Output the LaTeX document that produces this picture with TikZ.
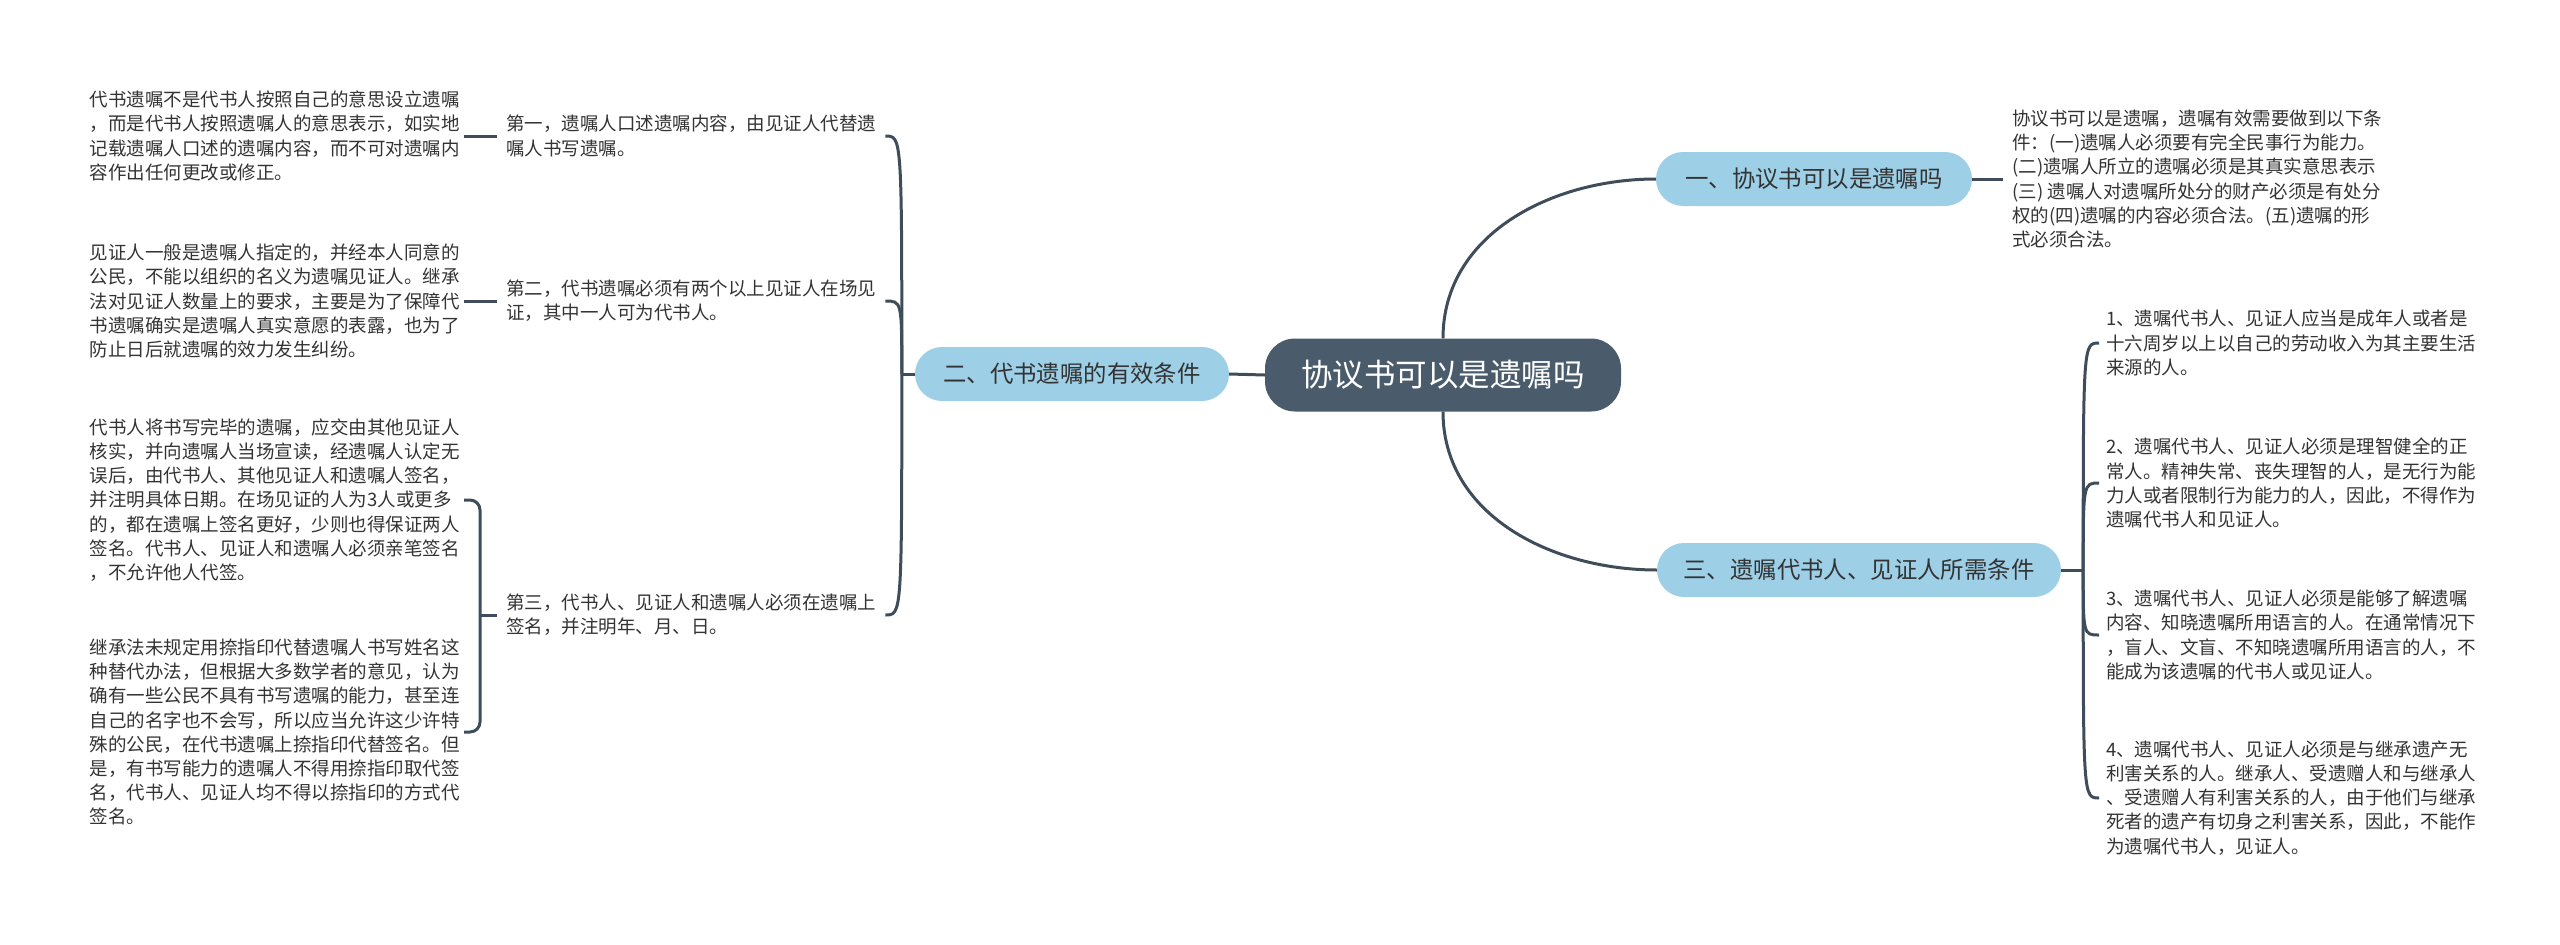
\documentclass[tikz,border=0pt]{standalone}
\usepackage{fontspec}
\setmainfont{Noto Sans CJK SC}
\usetikzlibrary{positioning, calc}
\definecolor{rootfill}{HTML}{4A5B6B}
\definecolor{topicfill}{HTML}{9DCFE6}
\definecolor{linkcol}{HTML}{3F4D5B}
\definecolor{txtcol}{HTML}{333333}
\tikzset{
  root/.style={fill=rootfill, rounded corners=30pt, minimum width=356pt, minimum height=73pt, inner sep=0pt, text=white, font=\fontsize{31.5}{36}\selectfont},
  topic/.style={fill=topicfill, rounded corners=27pt, minimum height=54pt, inner sep=0pt, text=txtcol, font=\fontsize{23.4}{28}\selectfont},
  sub/.style={align=left, inner xsep=9pt, inner ysep=0pt, text=txtcol, font=\fontsize{18.5}{24.2}\selectfont},
  leaf/.style={sub, inner xsep=4pt},
  link/.style={draw=linkcol, line width=3pt},
}
\begin{document}
\begin{tikzpicture}[x=1pt, y=-1pt]
    \useasboundingbox (0,0) rectangle (2560,945);
    \node[root] (root) at (1443,375) {协议书可以是遗嘱吗};
    \node[topic, minimum width=316pt] (b1) at (1814,179) {一、协议书可以是遗嘱吗};
    \node[topic, minimum width=314pt] (b2) at (1072,374) {二、代书遗嘱的有效条件};
    \node[topic, minimum width=404pt] (b3) at (1859,570) {三、遗嘱代书人、见证人所需条件};

    \node[sub, right=31pt of b1] (t1) {协议书可以是遗嘱，遗嘱有效需要做到以下条\\件：(一)遗嘱人必须要有完全民事行为能力。\\(二)遗嘱人所立的遗嘱必须是其真实意思表示\\(三) 遗嘱人对遗嘱所处分的财产必须是有处分\\权的(四)遗嘱的内容必须合法。(五)遗嘱的形\\式必须合法。};
    \coordinate (j3) at ($(b3.east)+(22,0)$);
    \node[sub, inner xsep=7pt, anchor=west] (i1) at (2099,343) {1、遗嘱代书人、见证人应当是成年人或者是\\十六周岁以上以自己的劳动收入为其主要生活\\来源的人。};
    \node[sub, inner xsep=7pt, anchor=west] (i2) at (2099,483) {2、遗嘱代书人、见证人必须是理智健全的正\\常人。精神失常、丧失理智的人，是无行为能\\力人或者限制行为能力的人，因此，不得作为\\遗嘱代书人和见证人。};
    \node[sub, inner xsep=7pt, anchor=west] (i3) at (2099,635) {3、遗嘱代书人、见证人必须是能够了解遗嘱\\内容、知晓遗嘱所用语言的人。在通常情况下\\，盲人、文盲、不知晓遗嘱所用语言的人，不\\能成为该遗嘱的代书人或见证人。};
    \node[sub, inner xsep=7pt, anchor=west] (i4) at (2099,798) {4、遗嘱代书人、见证人必须是与继承遗产无\\利害关系的人。继承人、受遗赠人和与继承人\\、受遗赠人有利害关系的人，由于他们与继承\\死者的遗产有切身之利害关系，因此，不能作\\为遗嘱代书人，见证人。};

    \coordinate (j2) at ($(b2.west)+(-13,0)$);
    \node[sub, anchor=west] (l1) at (497,136) {第一，遗嘱人口述遗嘱内容，由见证人代替遗\\嘱人书写遗嘱。};
    \node[sub, anchor=west] (l2) at (497,301) {第二，代书遗嘱必须有两个以上见证人在场见\\证，其中一人可为代书人。};
    \node[sub, anchor=west] (l3) at (497,615) {第三，代书人、见证人和遗嘱人必须在遗嘱上\\签名，并注明年、月、日。};
    \node[leaf, left=33pt of l1] (f1) {代书遗嘱不是代书人按照自己的意思设立遗嘱\\，而是代书人按照遗嘱人的意思表示，如实地\\记载遗嘱人口述的遗嘱内容，而不可对遗嘱内\\容作出任何更改或修正。};
    \node[leaf, left=33pt of l2] (f2) {见证人一般是遗嘱人指定的，并经本人同意的\\公民，不能以组织的名义为遗嘱见证人。继承\\法对见证人数量上的要求，主要是为了保障代\\书遗嘱确实是遗嘱人真实意愿的表露，也为了\\防止日后就遗嘱的效力发生纠纷。};
    \coordinate (j4) at ($(l3.west)+(-17,0)$);
    \node[leaf, anchor=east] (f3) at (464,500) {代书人将书写完毕的遗嘱，应交由其他见证人\\核实，并向遗嘱人当场宣读，经遗嘱人认定无\\误后，由代书人、其他见证人和遗嘱人签名，\\并注明具体日期。在场见证的人为3人或更多\\的，都在遗嘱上签名更好，少则也得保证两人\\签名。代书人、见证人和遗嘱人必须亲笔签名\\，不允许他人代签。};
    \node[leaf, anchor=east] (f4) at (464,732) {继承法未规定用捺指印代替遗嘱人书写姓名这\\种替代办法，但根据大多数学者的意见，认为\\确有一些公民不具有书写遗嘱的能力，甚至连\\自己的名字也不会写，所以应当允许这少许特\\殊的公民，在代书遗嘱上捺指印代替签名。但\\是，有书写能力的遗嘱人不得用捺指印取代签\\名，代书人、见证人均不得以捺指印的方式代\\签名。};

    \draw[link] (root.north) .. controls ($(root.north)+(0,-104)$) and ($(b1.west)+(-104,0)$) .. (b1.west);
    \draw[link] (root.south) .. controls ($(root.south)+(0,104)$) and ($(b3.west)+(-104,0)$) .. (b3.west);
    \draw[link] (root.west) -- (b2.east);
    \draw[link] (b1.east) -- (t1.west);
    \draw[link] (b3.east) -- (j3);
    \foreach \n in {i1,i2,i3,i4}
      \draw[link] (j3) .. controls (j3 |- \n.west) .. (\n.west);
    \draw[link] (b2.west) -- (j2);
    \foreach \n in {l1,l2,l3}
      \draw[link] (j2) .. controls (j2 |- \n.east) .. (\n.east);
    \draw[link] (f1.east) -- (l1.west);
    \draw[link] (f2.east) -- (l2.west);
    \draw[link] (l3.west) -- (j4);
    \draw[link, rounded corners=10pt] (j4) |- (f3.east);
    \draw[link, rounded corners=10pt] (j4) |- (f4.east);
\end{tikzpicture}
\end{document}
